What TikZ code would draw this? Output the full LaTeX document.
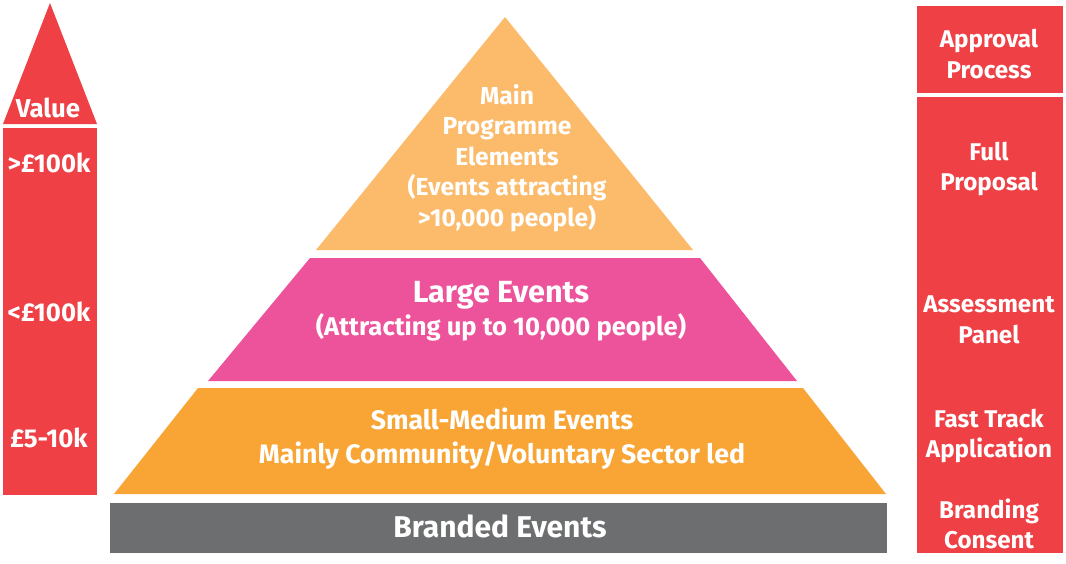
\documentclass[tikz,border=0pt]{standalone}
\usepackage{fontspec}
\setmainfont{Fira Sans}[UprightFont=* Bold]
\definecolor{redc}{HTML}{EE4045}
\definecolor{topc}{HTML}{FBBB6B}
\definecolor{pinkc}{HTML}{EC539B}
\definecolor{orc}{HTML}{F8A535}
\definecolor{grayc}{HTML}{6D6E70}
\begin{document}
\begin{tikzpicture}[x=1pt,y=-1pt,
  lbl/.style={text=white,align=center,inner sep=0pt},
  sm/.style={lbl,font=\fontsize{24.2}{30.5}\selectfont},
  lf/.style={lbl,font=\fontsize{25.8}{30.5}\selectfont},
  mid/.style={lbl,font=\fontsize{26.7}{34}\selectfont},
  big/.style={lbl,font=\fontsize{30.6}{34}\selectfont}]
\useasboundingbox (0,0) rectangle (1066,563);
% left value scale
\fill[redc] (50,3) -- (97,124) -- (3,124) -- cycle;
\fill[redc] (3,128) rectangle (97,495);
\node[lf] (value) at (48,108) {Value};
\node[lf] (v1) at (49,163) {>£100k};
\node[lf] (v2) at (49,312) {<£100k};
\node[lf] (v3) at (49,438) {£5-10k};
% pyramid
\fill[topc] (505,17) -- (693,250) -- (316,250) -- cycle;
\fill[pinkc] (310,258) -- (700,258) -- (797,381) -- (208,381) -- cycle;
\fill[orc] (198,388) -- (803,388) -- (886,494) -- (114,494) -- cycle;
\fill[grayc] (110,503) rectangle (887,553);
\node[sm,font=\fontsize{24.6}{30.5}\selectfont] (main) at (507,158) {Main\\Programme\\Elements\\(Events attracting\\>10,000 people)};
\node[big] (large) at (501,295) {Large Events};
\node[sm,font=\fontsize{25.6}{30.5}\selectfont] (large2) at (501,327) {(Attracting up to 10,000 people)};
\node[mid] (small) at (502,439) {Small-Medium Events\\Mainly Community/Voluntary Sector led};
\node[big,font=\fontsize{30}{34}\selectfont] (brand) at (500,526) {Branded Events};
% right approval column
\fill[redc] (917,6) rectangle (1063,93);
\fill[redc] (917,97) rectangle (1063,553);
\node[sm] (ap) at (989,54) {Approval\\Process};
\node[sm] (fp) at (989,169) {Full\\Proposal};
\node[sm] (as) at (989,320) {Assessment\\Panel};
\node[sm] (ft) at (989,436) {Fast Track\\Application};
\node[sm] (bc) at (989,524) {Branding\\Consent};
\end{tikzpicture}
\end{document}
